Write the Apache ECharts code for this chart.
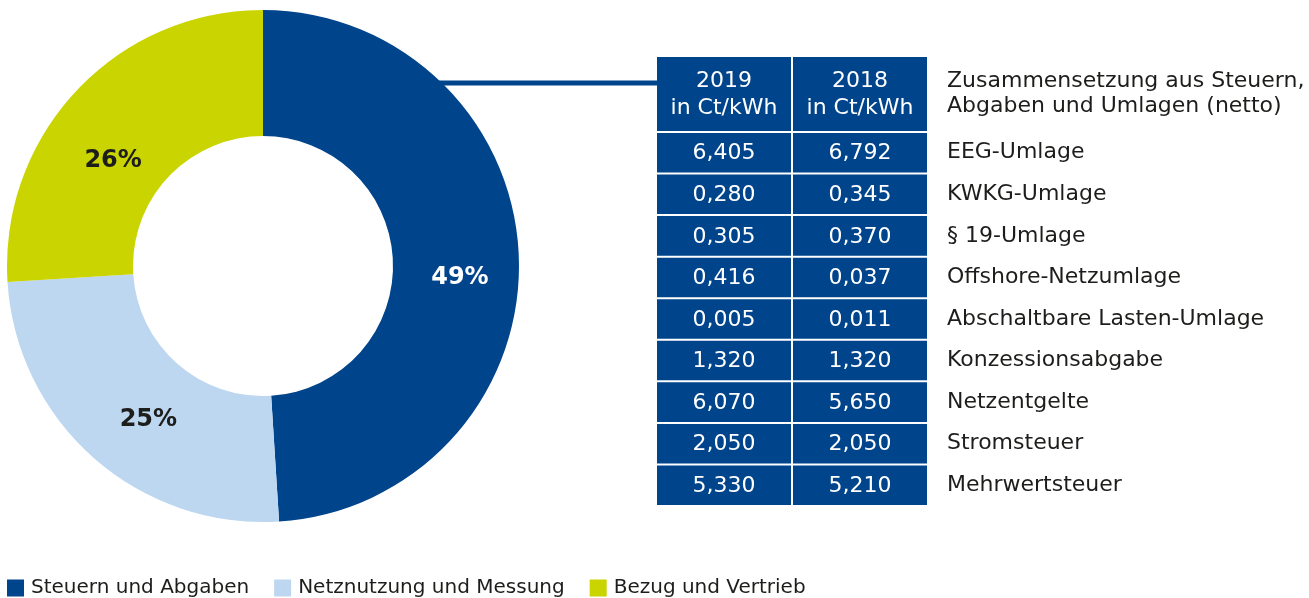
<!DOCTYPE html>
<html>
<head>
<meta charset="utf-8">
<script src="https://cdn.jsdelivr.net/npm/echarts@6/dist/echarts.min.js"></script>
<style>
html,body{margin:0;padding:0;background:#fff;}
#c{width:1309px;height:598px;}
</style>
</head>
<body>
<div id="c"></div>
<script>
// ---- data ----
const pieNames = ['Steuern und Abgaben', 'Netznutzung und Messung', 'Bezug und Vertrieb'];
const pieValues = [49, 25, 26];
const tableCols = ['2019', '2018'];
const colHeaders = ['2019\nin Ct/kWh', '2018\nin Ct/kWh'];
const tableTitle = 'Zusammensetzung aus Steuern,\nAbgaben und Umlagen (netto)';
const rowLabels = ['EEG-Umlage', 'KWKG-Umlage', '§ 19-Umlage', 'Offshore-Netzumlage',
  'Abschaltbare Lasten-Umlage', 'Konzessionsabgabe', 'Netzentgelte', 'Stromsteuer', 'Mehrwertsteuer'];
const values2019 = [6.405, 0.280, 0.305, 0.416, 0.005, 1.320, 6.070, 2.050, 5.330];
const values2018 = [6.792, 0.345, 0.370, 0.037, 0.011, 1.320, 5.650, 2.050, 5.210];

// ---- style ----
const DARK = '#00448B', LIGHT = '#BDD7F1', LIME = '#C9D400', TXT = '#1d1d1b';
const FONT = '"DejaVu Sans", sans-serif';
const G = {left: 656, width: 272, top: 132, height: 374};
const HEADER_TOP = 57, HEADER_BOTTOM = 131;

const cellData = [];
rowLabels.forEach((r, i) => {
  cellData.push([0, i, values2019[i]]);
  cellData.push([1, i, values2018[i]]);
});
const fmt = v => v.toFixed(3).replace('.', ',');

const chart = echarts.init(document.getElementById('c'), null, {renderer: 'canvas'});

const colW = G.width / tableCols.length;
const headerGraphics = [];
colHeaders.forEach((h, i) => {
  headerGraphics.push({
    type: 'rect', shape: {x: G.left + i * colW + 1, y: HEADER_TOP, width: colW - 2, height: HEADER_BOTTOM - HEADER_TOP},
    style: {fill: DARK}
  });
  headerGraphics.push({
    type: 'text', x: G.left + i * colW + colW / 2, y: (HEADER_TOP + HEADER_BOTTOM) / 2 + 1,
    style: {text: h, fill: '#fff', font: '22px ' + FONT, align: 'center', verticalAlign: 'middle', lineHeight: 27}
  });
});

const labelShift = [[1, 18], [15, 7], [-7, 29]];

chart.setOption({
  animation: false,
  color: [DARK, LIGHT, LIME],
  legend: {
    left: 7, top: 578, padding: 0, icon: 'rect', itemWidth: 17, itemHeight: 17, itemGap: 25,
    textStyle: {fontFamily: FONT, fontSize: 20, color: TXT, padding: [0, 0, 0, 2]},
    data: pieNames
  },
  grid: {left: G.left, width: G.width, top: G.top, height: G.height, containLabel: false},
  xAxis: {type: 'category', data: tableCols, show: false},
  yAxis: {
    type: 'category', data: rowLabels, inverse: true, position: 'right',
    axisLine: {show: false}, axisTick: {show: false}, splitLine: {show: false},
    axisLabel: {margin: 19, fontFamily: FONT, fontSize: 22, color: TXT, align: 'left'}
  },
  graphic: [
    {type: 'line', shape: {x1: 437, y1: 83, x2: 657, y2: 83}, style: {stroke: DARK, lineWidth: 5}},
    ...headerGraphics,
    {type: 'text', x: 947, y: 94, style: {text: tableTitle, fill: TXT, font: '22px ' + FONT, verticalAlign: 'middle', lineHeight: 25}}
  ],
  series: [
    {
      type: 'pie', center: [263, 266], radius: [130, 256], startAngle: 90, clockwise: true,
      silent: true,
      data: pieNames.map((n, i) => ({
        name: n, value: pieValues[i],
        label: {color: i === 0 ? '#fff' : TXT}
      })),
      label: {show: true, position: 'inside', formatter: '{c}%', fontFamily: FONT, fontWeight: 'bold', fontSize: 24},
      labelLayout: p => ({dx: labelShift[p.dataIndex][0], dy: labelShift[p.dataIndex][1]}),
      labelLine: {show: false}
    },
    {
      type: 'custom', coordinateSystem: 'cartesian2d', silent: true,
      data: cellData,
      renderItem: (params, api) => {
        const p = api.coord([api.value(0), api.value(1)]);
        const s = api.size([1, 1]);
        return {
          type: 'group',
          children: [
            {type: 'rect', shape: {x: p[0] - s[0] / 2 + 1, y: p[1] - s[1] / 2 + 1, width: s[0] - 2, height: s[1] - 2}, style: {fill: DARK}},
            {type: 'text', x: p[0], y: p[1] + 1, style: {text: fmt(api.value(2)), fill: '#fff', font: '22px ' + FONT, align: 'center', verticalAlign: 'middle'}}
          ]
        };
      }
    }
  ]
});
</script>
</body>
</html>
